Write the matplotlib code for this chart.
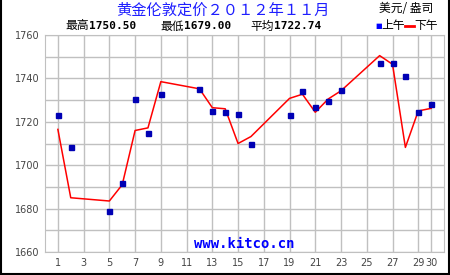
import matplotlib
matplotlib.use("Agg")
import matplotlib.pyplot as plt
from matplotlib.lines import Line2D

# November 2012 London gold fix, USD/oz
days = [1, 2, 5, 6, 7, 8, 9, 12, 13, 14, 15, 16, 19, 20, 21, 22, 23, 26, 27, 28, 29, 30]
am = [1723.0, 1708.2, 1679.0, 1691.7, 1730.4, 1714.7, 1732.7, 1735.3, 1724.8, 1724.5, 1723.5,
      1709.6, 1723.0, 1734.0, 1726.7, 1729.4, 1734.5, 1747.0, 1747.0, 1741.0, 1724.4, 1728.0]
pm = [1716.5, 1685.0, 1683.5, 1691.0, 1716.0, 1717.2, 1738.5, 1735.2, 1726.5, 1726.0, 1710.0,
      1713.2, 1730.8, 1732.7, 1724.4, 1730.5, 1734.3, 1750.5, 1746.5, 1708.2, 1725.0, 1726.2]
xticks = [1, 3, 5, 7, 9, 11, 13, 15, 17, 19, 21, 23, 25, 27, 29, 30]
yticks = [1660, 1680, 1700, 1720, 1740, 1760]

TITLE = "黄金伦敦定价２０１２年１１月"
UNIT = "美元/ 盎司"
STATS = [("最高", "1750.50"), ("最低", "1679.00"), ("平均", "1722.74")]

BLUE, RED, GRID = "#0000b4", "#ff0000", "#c0c0c0"
CJK = ["Noto Sans CJK SC", "DejaVu Sans"]

fig = plt.figure(figsize=(4.5, 2.75), dpi=100)
fig.patch.set_facecolor("white")
ax = fig.add_axes([45 / 450, 23 / 275, 399 / 450, 217 / 275])

ax.plot(days, pm, color=RED, lw=1.1, zorder=3)
ax.plot(days, am, ls="none", marker="s", ms=3.6, mfc=BLUE, mec=BLUE, zorder=4)

ax.set_xlim(0, 31)
ax.set_ylim(1660, 1760)
ax.set_xticks(xticks)
ax.set_yticks(yticks)
ax.set_yticks(range(1660, 1761, 10), minor=True)
ax.tick_params(length=0, labelsize=7, labelcolor="#444444", pad=4)
ax.tick_params(which="minor", length=0)
ax.grid(True, which="both", color=GRID, lw=1.0, zorder=1)
for s in ax.spines.values():
    s.set_color(GRID)

ax.text(0.5, 0.035, "www.kitco.cn", transform=ax.transAxes, ha="center", va="center",
        family="DejaVu Sans Mono", weight="bold", fontsize=10, color="#0000ff")

# header texts
fig.text(223 / 450, 1 - 10 / 275, TITLE, ha="center", va="center", family=CJK,
         fontsize=11, color="#1e1eff")
fig.text(433 / 450, 1 - 9 / 275, UNIT, ha="right", va="center", family=CJK,
         fontsize=8.5, color="black")
for x0, (lab, val) in zip([65, 160, 250], STATS):
    t = fig.text(x0 / 450, 1 - 26 / 275, lab, ha="left", va="center", family=CJK,
                 fontsize=8.5, color="black")
    fig.text((x0 + 24) / 450, 1 - 26 / 275, val, ha="left", va="center",
             family="DejaVu Sans Mono", weight="bold", fontsize=8, color="black")

# legend: blue square AM, red dash PM
fig.text(375 / 450, 1 - 26 / 275, "■", ha="left", va="center", family="DejaVu Sans",
         fontsize=5, color="#0000ff")
fig.text(381 / 450, 1 - 26 / 275, "上午", ha="left", va="center", family=CJK,
         fontsize=8.5, color="black")
fig.add_artist(Line2D([405 / 450, 414 / 450], [1 - 26 / 275] * 2, color=RED, lw=2,
                      transform=fig.transFigure))
fig.text(414 / 450, 1 - 26 / 275, "下午", ha="left", va="center", family=CJK,
         fontsize=8.5, color="black")

# outer black frame (left, right, bottom)
for xs, ys in [([0.5 / 450] * 2, [0, 1]), ([449 / 450] * 2, [0, 1]),
               ([0, 1], [1.5 / 275] * 2)]:
    fig.add_artist(Line2D(xs, ys, color="black", lw=1.5, transform=fig.transFigure))

fig.savefig("out.png", dpi=100)
